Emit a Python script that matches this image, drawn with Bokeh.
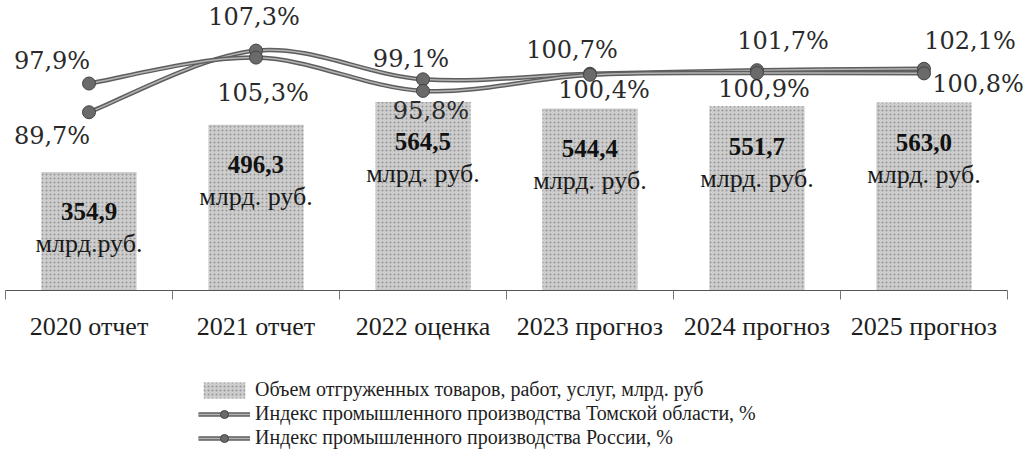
from bokeh.plotting import figure
from bokeh.models import (Range1d, LinearAxis, FixedTicker, Legend, LegendItem,
                          ColumnDataSource)
from bokeh.core.properties import value
from bokeh.embed import file_html
from bokeh.resources import INLINE

# ---------------- data ----------------
categories = ["2020 отчет", "2021 отчет", "2022 оценка",
              "2023 прогноз", "2024 прогноз", "2025 прогноз"]
shipped = [354.9, 496.3, 564.5, 544.4, 551.7, 563.0]
shipped_labels = ["354,9", "496,3", "564,5", "544,4", "551,7", "563,0"]
unit_labels = ["млрд.руб.", "млрд. руб.", "млрд. руб.",
               "млрд. руб.", "млрд. руб.", "млрд. руб."]
tomsk = [89.7, 107.3, 99.1, 100.7, 101.7, 102.1]
russia = [97.9, 105.3, 95.8, 100.4, 100.9, 100.8]
legend_labels = ["Объем отгруженных товаров, работ, услуг, млрд. руб",
                 "Индекс промышленного производства Томской области, %",
                 "Индекс промышленного производства России, %"]

# ---------------- styling (label offsets in screen px) ----------------
tomsk_dx = [-37, -2, -12, -18, 26, 46]
tomsk_dy = [24, -34, -20, -24, -29, -28]
russia_dx = [-37, 7, 8, 14, 7, 54]
russia_dy = [-23, 35, 20, 15, 16, 11]

xs = [i + 0.5 for i in range(len(categories))]


def fmt_pct(v):
    return f"{v:.1f}".replace(".", ",") + "%"


def bezier_source(x, y):
    n = len(x)
    d = dict(x0=[], y0=[], x1=[], y1=[], cx0=[], cy0=[], cx1=[], cy1=[])
    for i in range(n - 1):
        a = i - 1 if i > 0 else i
        b = i + 2 if i + 2 < n else i + 1
        d["x0"].append(x[i]); d["y0"].append(y[i])
        d["x1"].append(x[i + 1]); d["y1"].append(y[i + 1])
        d["cx0"].append(x[i] + (x[i + 1] - x[a]) / 6)
        d["cy0"].append(y[i] + (y[i + 1] - y[a]) / 6)
        d["cx1"].append(x[i + 1] - (x[b] - x[i]) / 6)
        d["cy1"].append(y[i + 1] - (y[b] - y[i]) / 6)
    return ColumnDataSource(d)


# the frame fills the whole page; the category axis is pinned at zero
p = figure(frame_width=1027, frame_height=461,
           x_range=Range1d(-0.03, 6.12), y_range=Range1d(-512, 868),
           output_backend="svg", toolbar_location=None,
           x_axis_location=None, y_axis_location=None,
           min_border_left=0, min_border_right=0, min_border_top=0,
           min_border_bottom=0, outline_line_color=None)
p.xgrid.visible = False
p.ygrid.visible = False
p.extra_y_ranges = {"pct": Range1d(-10.0, 121.6)}

# bars
bar_src = ColumnDataSource(dict(x=xs, top=shipped, lab=shipped_labels, unit=unit_labels))
bars = p.vbar(x="x", top="top", width=0.57, bottom=0, source=bar_src,
              fill_color="#cdcdcd", line_color=None,
              hatch_pattern="dot", hatch_color="#969696", hatch_scale=4, hatch_weight=1)
p.text(x="x", y="top", text="lab", source=bar_src, y_offset=40,
       text_align="center", text_baseline="middle",
       text_font=value("Liberation Serif"), text_font_style="bold",
       text_font_size="25px", text_color="#111111")
p.text(x="x", y="top", text="unit", source=bar_src, y_offset=72,
       text_align="center", text_baseline="middle",
       text_font=value("Liberation Serif"),
       text_font_size="26px", text_color="#1a1a1a")

# lines
line_renderers = []
for vals, dx, dy in ((tomsk, tomsk_dx, tomsk_dy), (russia, russia_dx, russia_dy)):
    bsrc = bezier_source(xs, vals)
    outer = p.bezier(x0="x0", y0="y0", x1="x1", y1="y1", cx0="cx0", cy0="cy0",
                     cx1="cx1", cy1="cy1", source=bsrc, y_range_name="pct",
                     line_color="#5e5e5e", line_width=4.5)
    inner = p.bezier(x0="x0", y0="y0", x1="x1", y1="y1", cx0="cx0", cy0="cy0",
                     cx1="cx1", cy1="cy1", source=bsrc, y_range_name="pct",
                     line_color="#b4b4b4", line_width=1.5)
    src = ColumnDataSource(dict(x=xs, y=vals, t=[fmt_pct(v) for v in vals], dx=dx, dy=dy))
    sc = p.scatter(x="x", y="y", source=src, y_range_name="pct", size=13,
                   fill_color="#6a6a6a", line_color="#444444", line_width=1)
    p.text(x="x", y="y", text="t", source=src, y_range_name="pct",
           x_offset="dx", y_offset="dy", text_align="center", text_baseline="middle",
           text_font=value("DejaVu Serif"), text_font_size="24px", text_color="#2a2a2a")
    line_renderers.append([outer, inner, sc])

# x axis, pinned at the bars' baseline
xaxis = LinearAxis(
    fixed_location=0, bounds=(0, len(categories)),
    ticker=FixedTicker(ticks=xs, minor_ticks=list(range(len(categories) + 1))),
    major_label_overrides={x: c for x, c in zip(xs, categories)},
    major_tick_out=0, major_tick_in=0, minor_tick_out=9, minor_tick_in=0,
    minor_tick_line_color="#777777", axis_line_color="#555555",
    major_label_standoff=13,
    major_label_text_font="Liberation Serif", major_label_text_font_size="26px",
    major_label_text_color="#1e1e1e")
p.add_layout(xaxis, "below")

# legend inside the frame, near its bottom
items = [LegendItem(label=legend_labels[0], renderers=[bars]),
         LegendItem(label=legend_labels[1], renderers=line_renderers[0]),
         LegendItem(label=legend_labels[2], renderers=line_renderers[1])]
legend = Legend(items=items, location=(198, 12), orientation="vertical",
                glyph_width=52, glyph_height=20, label_height=20, spacing=1,
                label_standoff=5, label_text_font="Liberation Serif",
                label_text_font_size="20px", label_text_color="#1e1e1e",
                border_line_color=None, background_fill_alpha=0, padding=0, margin=0)
p.add_layout(legend, "center")

open("out.html", "w").write(file_html(p, INLINE))
